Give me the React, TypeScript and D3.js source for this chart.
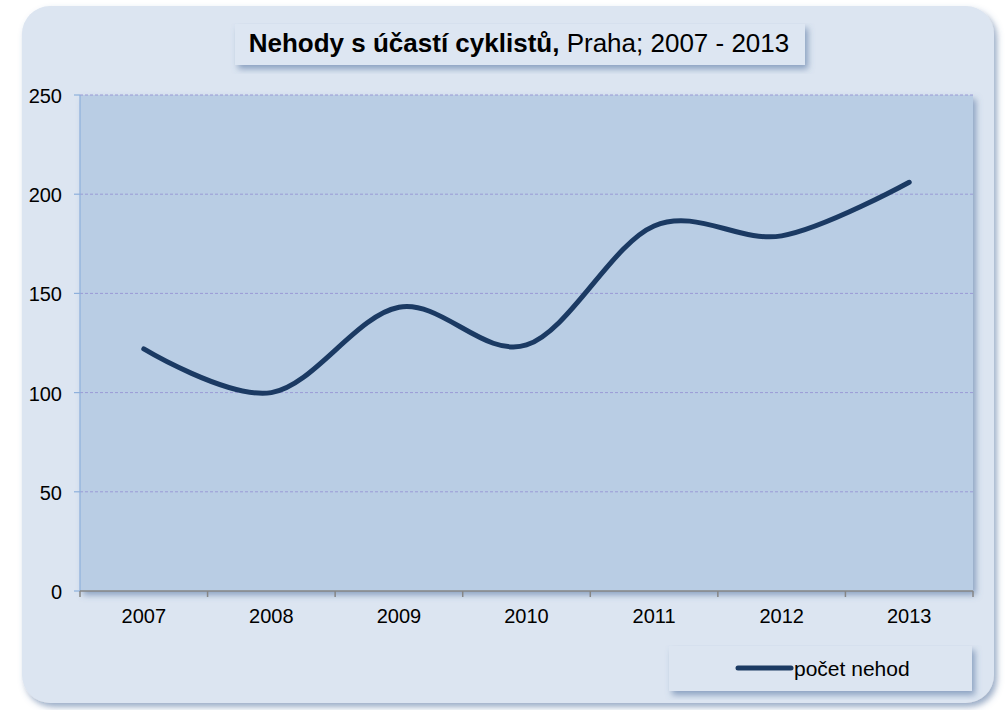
import React from "react";
import * as d3 from "d3";

const years = ["2007", "2008", "2009", "2010", "2011", "2012", "2013"];
const accidents = [122, 100, 143, 124, 184, 179, 206];
const yTicks = [0, 50, 100, 150, 200, 250];
const seriesName = "počet nehod";

export default function App() {
  const W = 1005, H = 710;
  const left = 80, right = 973, top = 95, bottom = 591;
  const x = d3.scaleBand().domain(years).range([left, right]);
  const y = d3.scaleLinear().domain([0, 250]).range([bottom, top]);
  const line = d3
    .line<number>()
    .x((_, i) => (x(years[i]) as number) + x.bandwidth() / 2)
    .y((d) => y(d))
    .curve(d3.curveCatmullRom.alpha(0));
  const font = "Liberation Sans, Arial, sans-serif";
  const edges = [...years.map((yr) => x(yr) as number), right];
  return (
    <svg width={W} height={H} style={{ position: "absolute", left: 0, top: 0 }}>
      <defs>
        <filter id="sh" x="-10%" y="-10%" width="130%" height="130%">
          <feGaussianBlur in="SourceAlpha" stdDeviation="3" />
          <feOffset dx="3" dy="4" result="b" />
          <feFlood floodColor="#4a6a99" floodOpacity="0.55" />
          <feComposite in2="b" operator="in" />
          <feMerge>
            <feMergeNode />
            <feMergeNode in="SourceGraphic" />
          </feMerge>
        </filter>
      </defs>
      <rect x={0} y={0} width={W} height={H} fill="#ffffff" />
      <rect x={22} y={6} width={972} height={697} rx={28} fill="#dce5f1" filter="url(#sh)" />
      <rect x={left} y={top} width={right - left} height={bottom - top} fill="#b9cde4" filter="url(#sh)" />
      {yTicks.slice(1).map((t) => (
        <line key={t} x1={left} x2={right} y1={y(t)} y2={y(t)} stroke="#9a9ad6" strokeWidth={1} strokeDasharray="3,2" />
      ))}
      <line x1={left} x2={left} y1={top} y2={bottom} stroke="#8eb0dc" strokeWidth={1.2} />
      {yTicks.map((t) => (
        <g key={t}>
          <line x1={left - 6} x2={left} y1={y(t)} y2={y(t)} stroke="#8eb0dc" strokeWidth={1.2} />
          <text x={62} y={y(t) + 8} textAnchor="end" fontFamily={font} fontSize={20} fill="#000">{t}</text>
        </g>
      ))}
      <line x1={left} x2={right} y1={bottom} y2={bottom} stroke="#868686" strokeWidth={1.5} />
      {edges.map((e, i) => (
        <line key={i} x1={e} x2={e} y1={bottom} y2={bottom + 6} stroke="#868686" strokeWidth={1.5} />
      ))}
      {years.map((yr) => (
        <text key={yr} x={(x(yr) as number) + x.bandwidth() / 2} y={623} textAnchor="middle" fontFamily={font} fontSize={20} fill="#000">{yr}</text>
      ))}
      <path d={line(accidents) || ""} fill="none" stroke="#1b3a63" strokeWidth={5} strokeLinecap="round" strokeLinejoin="round" />
      <rect x={235} y={24} width={570} height={41} fill="#dde6f2" filter="url(#sh)" />
      <text x={519} y={52} textAnchor="middle" fontFamily={font} fontSize={26} fill="#000">
        <tspan fontWeight="bold">Nehody s účastí cyklistů,</tspan>
        <tspan> Praha; 2007 - 2013</tspan>
      </text>
      <rect x={669} y={646} width={303} height={45} fill="#dce5f1" filter="url(#sh)" />
      <line x1={738} x2={791} y1={668} y2={668} stroke="#1b3a63" strokeWidth={5} strokeLinecap="round" />
      <text x={794} y={676} fontFamily={font} fontSize={21} fill="#000">{seriesName}</text>
    </svg>
  );
}
